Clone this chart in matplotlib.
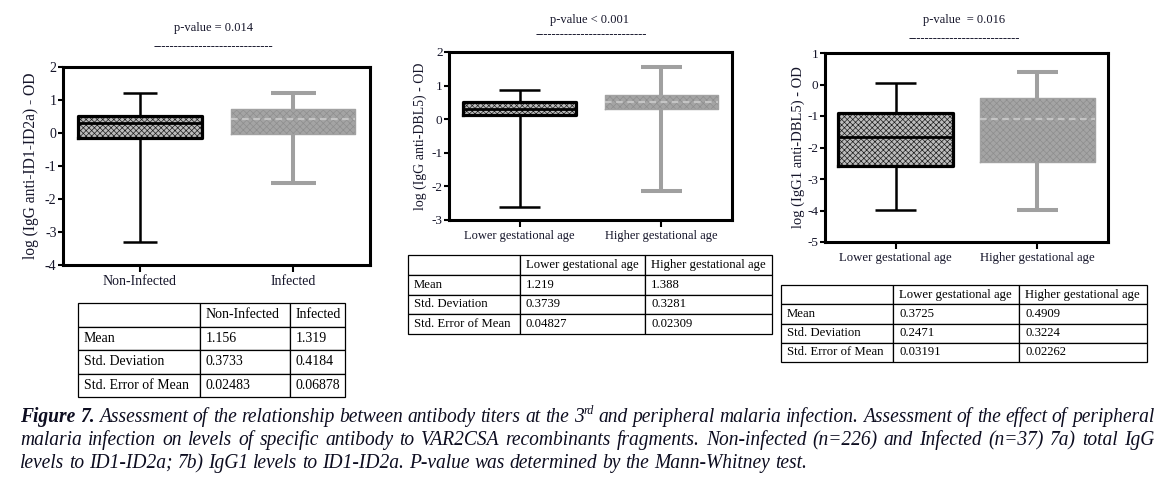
import matplotlib
matplotlib.use("Agg")
import matplotlib.pyplot as plt

plt.rcParams['font.family'] = ['Liberation Serif', 'DejaVu Serif']
plt.rcParams['axes.unicode_minus'] = False
plt.rcParams['hatch.linewidth'] = 0.5

# ---------------- data ----------------
cats_p1 = ["Non-Infected", "Infected"]
cats_ga = ["Lower gestational age", "Higher gestational age"]

p1_whislo = [-3.29, -1.52]
p1_q1 = [-0.14, -0.02]
p1_med = [0.29, 0.42]
p1_q3 = [0.52, 0.72]
p1_whishi = [1.22, 1.20]

p2_whislo = [-2.60, -2.13]
p2_q1 = [0.13, 0.29]
p2_med = [0.30, 0.50]
p2_q3 = [0.52, 0.72]
p2_whishi = [0.87, 1.56]

p3_whislo = [-3.97, -3.98]
p3_q1 = [-2.60, -2.47]
p3_med = [-1.67, -1.09]
p3_q3 = [-0.89, -0.42]
p3_whishi = [0.04, 0.41]

pvalue_texts = ["p-value = 0.014", "p-value < 0.001", "p-value  = 0.016"]
ylabels = ["log (IgG anti-ID1-ID2a) - OD", "log (IgG anti-DBL5) - OD", "log (IgG1 anti-DBL5) - OD"]
yticks_p1 = [-4, -3, -2, -1, 0, 1, 2]
yticks_p2 = [-3, -2, -1, 0, 1, 2]
yticks_p3 = [-5, -4, -3, -2, -1, 0, 1]

table_rows = ["Mean", "Std. Deviation", "Std. Error of Mean"]
t1_vals = [["1.156", "1.319"], ["0.3733", "0.4184"], ["0.02483", "0.06878"]]
t2_vals = [["1.219", "1.388"], ["0.3739", "0.3281"], ["0.04827", "0.02309"]]
t3_vals = [["0.3725", "0.4909"], ["0.2471", "0.3224"], ["0.03191", "0.02262"]]

caption_lines = [
    [("Figure 7.", "bold"), ("Assessment of the relationship between antibody titers at the 3", "it"),
     ("rd", "sup"), ("and peripheral malaria infection. Assessment of the effect of peripheral", "it")],
    [("malaria infection on levels of specific antibody to VAR2CSA recombinants fragments. "
      "Non-infected (n=226) and Infected (n=37) 7a) total IgG", "it")],
    [("levels to ID1-ID2a; 7b) IgG1 levels to ID1-ID2a. P-value was determined by the Mann-Whitney test.", "it")],
]

# ---------------- figure ----------------
W, H = 1174, 482
fig = plt.figure(figsize=(W / 100, H / 100), dpi=100)
fig.patch.set_facecolor("white")


def rect_px(l, t, r, b):
    return [l / W, 1 - b / H, (r - l) / W, (b - t) / H]


TXT = "#15152a"
styles = [
    dict(face="#bcbcbc", hatchc="#1e1e1e", hatch="xxxxxx", edge="black", box_lw=2.3,
         line="black", wlw=1.8, med="black", med_lw=2.0, med_ls="-"),
    dict(face="#a4a4a4", hatchc="#8e8e8e", hatch="xxxxx", edge="#a2a2a2", box_lw=1.0,
         line="#a0a0a0", wlw=2.9, med="#c4c4c4", med_lw=1.6, med_ls=(0, (3, 2))),
]


def draw_panel(rect, ylim, yticks, cats, whislo, q1, med, q3, whishi, ylabel,
               label_x, tick_fs, cat_fs, ylab_fs, box_w, cap_w):
    ax = fig.add_axes(rect_px(*rect))
    for i in range(2):
        st = [dict(whislo=whislo[i], q1=q1[i], med=med[i], q3=q3[i], whishi=whishi[i], fliers=[])]
        s = styles[i]
        ax.bxp(st, positions=[i + 1], widths=box_w, patch_artist=True, showfliers=False,
               showcaps=False, manage_ticks=False,
               boxprops=dict(facecolor=s["face"], edgecolor=s["hatchc"], hatch=s["hatch"], linewidth=0),
               whiskerprops=dict(linewidth=0), medianprops=dict(linewidth=0))
        ax.bxp(st, positions=[i + 1], widths=box_w, patch_artist=False, showfliers=False,
               capwidths=cap_w[i], manage_ticks=False,
               boxprops=dict(color=s["edge"], linewidth=s["box_lw"]),
               whiskerprops=dict(color=s["line"], linewidth=s["wlw"], solid_capstyle="butt"),
               capprops=dict(color=s["line"], linewidth=s["wlw"], solid_capstyle="butt"),
               medianprops=dict(color=s["med"], linewidth=s["med_lw"], linestyle=s["med_ls"]))
    ax.set_xlim(0.5, 2.5)
    ax.set_ylim(*ylim)
    ax.set_xticks([1, 2])
    ax.set_xticklabels(cats, fontsize=cat_fs, color=TXT)
    ax.set_yticks(yticks)
    ax.set_yticklabels([str(v) for v in yticks], fontsize=tick_fs, color=TXT)
    for sp in ax.spines.values():
        sp.set_linewidth(2.2)
    ax.tick_params(axis="y", direction="out", length=3.6, width=1.5, pad=1)
    ax.tick_params(axis="x", direction="out", length=5, width=1.5, pad=2)
    ax.set_ylabel(ylabel, fontsize=ylab_fs, color=TXT)
    l, t, r, b = rect
    ax.yaxis.set_label_coords((label_x - l) / (r - l), 0.5)
    return ax


draw_panel((63, 67, 370, 265), (-4, 2), yticks_p1, cats_p1, p1_whislo, p1_q1, p1_med, p1_q3,
           p1_whishi, ylabels[0], 39, 10, 10, 11.2, 0.81, [0.22, 0.29])
draw_panel((449, 52, 732, 220), (-3, 2), yticks_p2, cats_ga, p2_whislo, p2_q1, p2_med, p2_q3,
           p2_whishi, ylabels[1], 427, 9.5, 9, 10, 0.80, [0.29, 0.29])
draw_panel((825, 53, 1108, 242), (-5, 1), yticks_p3, cats_ga, p3_whislo, p3_q1, p3_med, p3_q3,
           p3_whishi, ylabels[2], 805, 9.5, 9.2, 10.5, 0.81, [0.29, 0.29])

# p-value headers
pv_pos = [(214, 28, 213, 50, 29), (590, 20, 591, 38, 27), (964, 20, 964, 42, 27)]
for txt, (cx, cy, dx, dy, n) in zip(pvalue_texts, pv_pos):
    fig.text(cx / W, 1 - cy / H, txt, ha="center", va="center", fontsize=9, color=TXT)
    fig.text(dx / W, 1 - dy / H, "-" * n, ha="center", va="baseline", fontsize=9, color=TXT)


# tables
def draw_table(box, colpx, vals, headers, fs):
    l, t, r, b = box
    ax = fig.add_axes(rect_px(l, t, r, b))
    ax.axis("off")
    cell_text = [[""] + headers] + [[rl] + v for rl, v in zip(table_rows, vals)]
    tot = r - l
    tbl = ax.table(cellText=cell_text, colWidths=[c / tot for c in colpx], bbox=[0, 0, 1, 1],
                   cellLoc="left")
    tbl.auto_set_font_size(False)
    tbl.set_fontsize(fs)
    for (ri, ci), cell in tbl.get_celld().items():
        cell.set_linewidth(0.9)
        cell.set_edgecolor("black")
        cell.PAD = 6 / colpx[ci]
        cell.get_text().set_color("black")
        cell.get_text().set_fontfamily(["Liberation Serif", "DejaVu Serif"])
    return tbl


draw_table((78, 303, 345, 397), [122, 90, 55], t1_vals, cats_p1, 10)
draw_table((408, 255, 772, 334), [112, 125, 127], t2_vals, cats_ga, 9.2)
draw_table((781, 285, 1147, 362), [112, 126, 128], t3_vals, cats_ga, 9.2)

# caption with justified lines
renderer = fig.canvas.get_renderer()


def props(kind, fs):
    if kind == "bold":
        return dict(fontsize=fs, fontstyle="italic", fontweight="bold")
    if kind == "sup":
        return dict(fontsize=fs * 0.62, fontstyle="italic")
    return dict(fontsize=fs, fontstyle="italic")


def measure(s, kw):
    t = fig.text(0, 0, s, **kw)
    w = t.get_window_extent(renderer).width
    t.remove()
    return w


def tokens_of(line):
    toks = []
    for text, kind in line:
        if kind == "sup":
            toks[-1].append((text, kind))
            continue
        for w in text.split(" "):
            if w:
                toks.append([(w, kind)])
    return toks


def natural_width(line, fs):
    toks = tokens_of(line)
    sp = measure("a a", props("it", fs)) - measure("aa", props("it", fs))
    tot = sum(measure(tx, props(k, fs)) for tok in toks for tx, k in tok)
    return tot + sp * (len(toks) - 1)


base = 12.0
nat = natural_width(caption_lines[2], base)
cap_fs = base * (807 - 20) / nat

x_left, x_right = 20, 1154
baselines = [422, 445, 468]
for li, line in enumerate(caption_lines):
    toks = tokens_of(line)
    widths = [[measure(tx, props(k, cap_fs)) for tx, k in tok] for tok in toks]
    tot = sum(sum(w) for w in widths)
    sp_nat = measure("a a", props("it", cap_fs)) - measure("aa", props("it", cap_fs))
    if li < len(caption_lines) - 1:
        gap = (x_right - x_left - tot) / (len(toks) - 1)
    else:
        gap = sp_nat
    x = x_left
    yb = baselines[li]
    for tok, ws in zip(toks, widths):
        for (tx, k), w in zip(tok, ws):
            rise = 0.42 * cap_fs * 100 / 72 if k == "sup" else 0
            fig.text(x / W, 1 - (yb - rise) / H, tx, ha="left", va="baseline", color="#0d0d20",
                     **props(k, cap_fs))
            x += w
        x += gap

fig.savefig("out.png", dpi=100)
